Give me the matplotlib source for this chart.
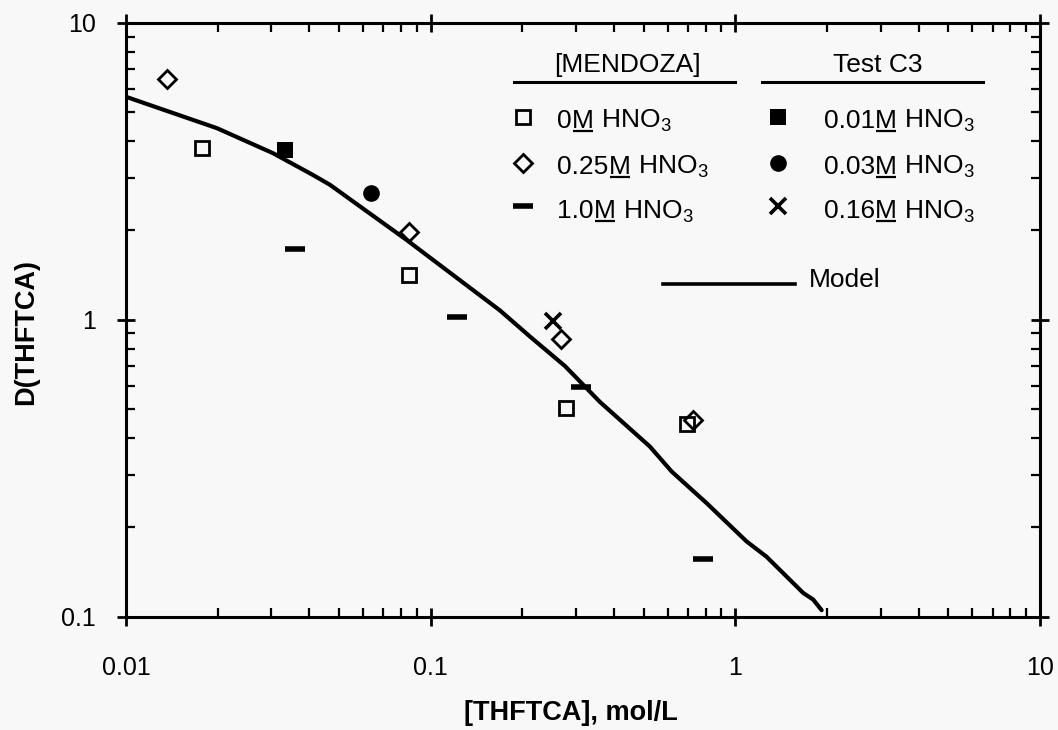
import matplotlib
matplotlib.use("Agg")
import matplotlib.pyplot as plt

plt.rcParams["font.family"] = ["Liberation Sans", "DejaVu Sans"]
plt.rcParams["mathtext.fontset"] = "custom"
plt.rcParams["mathtext.rm"] = "Liberation Sans"
plt.rcParams["mathtext.it"] = "Liberation Sans:italic"
plt.rcParams["mathtext.bf"] = "Liberation Sans:bold"

# ------------------------------------------------------------------------------
#   Data
# ------------------------------------------------------------------------------

# [MENDOZA]
mendoza_0M_x = [0.0178, 0.0852, 0.278, 0.695]
mendoza_0M_y = [3.78, 1.41, 0.503, 0.445]
mendoza_025M_x = [0.0136, 0.0849, 0.268, 0.724]
mendoza_025M_y = [6.48, 1.97, 0.861, 0.460]
mendoza_10M_x = [0.0359, 0.1217, 0.311, 0.781]
mendoza_10M_y = [1.73, 1.024, 0.595, 0.156]

# Test C3
test_001M_x = [0.0333]
test_001M_y = [3.73]
test_003M_x = [0.0637]
test_003M_y = [2.67]
test_016M_x = [0.2526]
test_016M_y = [0.993]

# Model
model_x = [0.0100, 0.0199, 0.0304, 0.0412, 0.0467, 0.0834, 0.1688, 0.212,
           0.276, 0.359, 0.524, 0.618, 0.805, 1.089, 1.266, 1.671, 1.802,
           1.92]
model_y = [5.64, 4.42, 3.64, 3.07, 2.85, 1.857, 1.075, 0.877,
           0.698, 0.529, 0.374, 0.308, 0.241, 0.179, 0.159, 0.120, 0.114,
           0.105]

# ------------------------------------------------------------------------------
#   Plot
# ------------------------------------------------------------------------------

bg = "#f8f8f8"
fig = plt.figure(figsize=(10.58, 7.30), dpi=100, facecolor=bg)
ax = fig.add_axes([126 / 1058, 1 - 616.5 / 730, 914 / 1058, 593.5 / 730])
ax.set_facecolor(bg)

sq_open = {"marker": "s", "ms": 10, "mfc": "none", "mec": "k", "mew": 2.0}
dia_open = {"marker": "D", "ms": 9.2, "mfc": "none", "mec": "k", "mew": 2.0}
dash = {"marker": "_", "ms": 14, "mec": "k", "mew": 4.0}
sq_fill = {"marker": "s", "ms": 11, "mfc": "k", "mec": "k", "mew": 0}
circ = {"marker": "o", "ms": 12, "mfc": "k", "mec": "k", "mew": 0}
cross = {"marker": "x", "ms": 12, "mec": "k", "mew": 2.6}

ax.plot(model_x, model_y, "-", color="k", lw=3.0, solid_capstyle="round",
        solid_joinstyle="round")
ax.plot(mendoza_0M_x, mendoza_0M_y, ls="none", **sq_open)
ax.plot(mendoza_025M_x, mendoza_025M_y, ls="none", **dia_open)
ax.plot(mendoza_10M_x, mendoza_10M_y, ls="none", **dash)
ax.plot(test_001M_x, test_001M_y, ls="none", **sq_fill)
ax.plot(test_003M_x, test_003M_y, ls="none", **circ)
ax.plot(test_016M_x, test_016M_y, ls="none", **cross)

ax.set_xscale("log")
ax.set_yscale("log")
ax.set_xlim(0.01, 10)
ax.set_ylim(0.1, 10)
ax.set_xticks([0.01, 0.1, 1, 10], ["0.01", "0.1", "1", "10"])
ax.set_yticks([0.1, 1, 10], ["0.1", "1", "10"])

for s in ax.spines.values():
    s.set_linewidth(2.2)
ax.tick_params(which="major", direction="inout", length=13, width=2.0,
               top=True, right=True, labelsize=18, color="k")
ax.tick_params(axis="x", which="major", pad=22)
ax.tick_params(axis="y", which="major", pad=15)
ax.tick_params(which="minor", direction="in", length=6.5, width=1.6,
               top=True, right=True)
ax.xaxis.set_minor_formatter(matplotlib.ticker.NullFormatter())
ax.yaxis.set_minor_formatter(matplotlib.ticker.NullFormatter())

ax.text(0.487, -0.1626, "[THFTCA], mol/L", transform=ax.transAxes,
        ha="center", va="center", fontsize=19.5, fontweight="bold")
ax.text(-0.109, 0.480, "D(THFTCA)", transform=ax.transAxes, rotation=90,
        ha="center", va="center", fontsize=19.5, fontweight="bold")

# Hand-made legend
T = ax.transAxes
fs = 19
renderer = fig.canvas.get_renderer()


def conc_label(x, y, conc):
    """Write e.g. '0.25M HNO3' with an underlined M, starting at (x, y)."""
    t1 = ax.text(x, y, conc, transform=T, ha="left", va="baseline",
                 fontsize=fs)
    bb1 = t1.get_window_extent(renderer)
    x_m = T.inverted().transform((bb1.x1, 0))[0]
    t2 = ax.text(x_m, y, "M", transform=T, ha="left", va="baseline",
                 fontsize=fs)
    bb2 = t2.get_window_extent(renderer)
    (x_m0, _), (x_m1, y_ul) = T.inverted().transform(
        [(bb2.x0, 0), (bb2.x1, T.transform((0, y))[1] - 3)]
    )
    ax.plot([x_m0 + 0.001, x_m1 - 0.001], [y_ul, y_ul], transform=T,
            color="k", lw=1.6, clip_on=False, solid_capstyle="butt")
    ax.text(x_m1, y, " HNO$_3$", transform=T, ha="left", va="baseline",
            fontsize=fs)


ax.text(0.549, 0.918, "[MENDOZA]", transform=T, ha="center", va="baseline",
        fontsize=fs)
ax.text(0.8228, 0.918, "Test C3", transform=T, ha="center", va="baseline",
        fontsize=fs)
ax.plot([0.4245, 0.6663], [0.9006, 0.9006], transform=T, color="k", lw=2.2,
        clip_on=False)
ax.plot([0.6958, 0.9376], [0.9006, 0.9006], transform=T, color="k", lw=2.2,
        clip_on=False)

left_items = [(sq_open, "0"), (dia_open, "0.25"), (dash, "1.0")]
right_items = [(sq_fill, "0.01"), (circ, "0.03"), (cross, "0.16")]
row_marker_y = [0.842, 0.764, 0.6923]
row_base_y = [0.8226, 0.7462, 0.6708]

for (style, conc), my, by in zip(left_items, row_marker_y, row_base_y):
    ax.plot([0.4344], [my], transform=T, clip_on=False, **style)
    conc_label(0.4721, by, conc)
for (style, conc), my, by in zip(right_items, row_marker_y, row_base_y):
    ax.plot([0.7133], [my], transform=T, clip_on=False, **style)
    conc_label(0.7637, by, conc)

ax.plot([0.587, 0.732], [0.5598, 0.5598], transform=T, color="k", lw=2.6)
ax.text(0.747, 0.5557, "Model", transform=T, ha="left", va="baseline",
        fontsize=fs)

fig.savefig("out.png", dpi=100, facecolor=bg)
